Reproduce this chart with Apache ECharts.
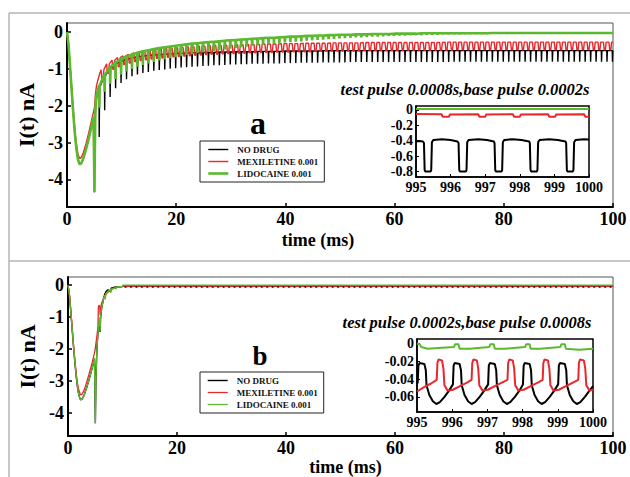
<!DOCTYPE html>
<html>
<head>
<meta charset="utf-8">
<title>I(t) pulse trains</title>
<script src="https://cdn.jsdelivr.net/npm/echarts@6.0.0/dist/echarts.min.js"></script>
<style>
  html, body { margin: 0; padding: 0; background: #fff; }
  #chart { width: 630px; height: 477px; }
</style>
</head>
<body>
<div id="chart"></div>
<script>
// legend names and colours
const seriesNames = ["NO DRUG", "MEXILETINE 0.001", "LIDOCAINE 0.001"];
const seriesColors = ["#000000", "#e8282c", "#5cb92f"];

// tick labels
const mainYTicks = [-4, -3, -2, -1, 0];
const insetYTicksA = [-0.8, -0.6, -0.4, -0.2, 0];
const insetYTicksB = [-0.06, -0.04, -0.02, 0];

// ---------- panel a : first 5.6 ms, [t, I] ----------
const noDrugEarlyA = [[0,0],[0.25,-0.3],[0.5,-0.8],[0.75,-1.35],[1,-1.9],[1.25,-2.4],[1.5,-2.85],[1.75,-3.2],[2,-3.45],[2.25,-3.57],[2.4,-3.59],[2.6,-3.56],[2.8,-3.5],[3,-3.42],[3.5,-3.17],[4,-2.88],[4.5,-2.55],[4.85,-2.3],[4.95,-3.4],[5.02,-4.35],[5.1,-3.2],[5.2,-2.2],[5.35,-1.85],[5.6,-1.6]];
const mexEarlyA = [[0,0],[0.25,-0.28],[0.5,-0.77],[0.75,-1.3],[1,-1.83],[1.25,-2.32],[1.5,-2.75],[1.75,-3.08],[2,-3.3],[2.25,-3.41],[2.4,-3.43],[2.6,-3.4],[2.8,-3.34],[3,-3.27],[3.5,-3.02],[4,-2.72],[4.5,-2.4],[4.8,-2.2],[5,-2.08],[5.1,-1.95],[5.2,-1.7],[5.4,-1.45],[5.7,-1.28],[6,-1.12],[6.2,-1.05]];
const lidoEarlyA = [[0,0],[0.25,-0.3],[0.5,-0.8],[0.75,-1.35],[1,-1.9],[1.25,-2.4],[1.5,-2.85],[1.75,-3.2],[2,-3.45],[2.25,-3.57],[2.4,-3.59],[2.6,-3.56],[2.8,-3.5],[3,-3.42],[3.5,-3.17],[4,-2.88],[4.5,-2.55],[4.85,-2.3],[4.95,-3.4],[5.02,-4.35],[5.1,-3.2],[5.2,-2.1],[5.35,-1.75],[5.6,-1.62]];

// ---------- panel a : one value per 1 ms pulse cycle ----------
// plateau (test pulse) and tip (base pulse) levels, cycles 5..99
const noDrugHiA = [
  -1.5,-1.2,-0.98,-0.86,-0.79,-0.74,-0.7,-0.67,-0.65,-0.63,
  -0.62,-0.61,-0.6,-0.59,-0.58,-0.57,-0.57,-0.56,-0.56,-0.55,
  -0.55,-0.55,-0.54,-0.54,-0.54,-0.53,-0.53,-0.53,-0.53,-0.52,
  -0.52,-0.52,-0.52,-0.52,-0.51,-0.51,-0.51,-0.51,-0.51,-0.51,
  -0.51,-0.5,-0.5,-0.5,-0.5,-0.5,-0.5,-0.5,-0.5,-0.5,
  -0.5,-0.5,-0.5,-0.5,-0.5,-0.5,-0.5,-0.5,-0.5,-0.5,
  -0.5,-0.5,-0.5,-0.5,-0.5,-0.5,-0.5,-0.5,-0.5,-0.5,
  -0.5,-0.5,-0.5,-0.5,-0.5,-0.5,-0.5,-0.5,-0.5,-0.5,
  -0.5,-0.5,-0.5,-0.5,-0.5,-0.5,-0.5,-0.5,-0.5,-0.5,
  -0.5,-0.5,-0.5,-0.5,-0.5
];
const noDrugLoA = [
  -2.85,-2.12,-1.76,-1.52,-1.38,-1.28,-1.2,-1.15,-1.11,-1.08,
  -1.05,-1.03,-1.01,-0.99,-0.98,-0.96,-0.95,-0.94,-0.93,-0.92,
  -0.91,-0.9,-0.9,-0.89,-0.88,-0.88,-0.87,-0.87,-0.86,-0.86,
  -0.86,-0.85,-0.85,-0.85,-0.84,-0.84,-0.84,-0.83,-0.83,-0.83,
  -0.83,-0.82,-0.82,-0.82,-0.82,-0.82,-0.81,-0.81,-0.81,-0.81,
  -0.81,-0.81,-0.81,-0.81,-0.81,-0.81,-0.81,-0.81,-0.81,-0.81,
  -0.81,-0.81,-0.81,-0.81,-0.81,-0.8,-0.8,-0.8,-0.8,-0.8,
  -0.8,-0.8,-0.8,-0.8,-0.8,-0.8,-0.8,-0.8,-0.8,-0.8,
  -0.8,-0.8,-0.8,-0.8,-0.8,-0.8,-0.8,-0.8,-0.8,-0.8,
  -0.8,-0.8,-0.8,-0.8,-0.8
];
// cycles 6..99
const mexHiA = [
  -1.02,-0.86,-0.76,-0.69,-0.64,-0.6,-0.56,-0.53,-0.51,-0.49,
  -0.47,-0.46,-0.44,-0.43,-0.42,-0.41,-0.4,-0.39,-0.38,-0.38,
  -0.37,-0.36,-0.36,-0.35,-0.35,-0.34,-0.34,-0.33,-0.33,-0.33,
  -0.32,-0.32,-0.32,-0.31,-0.31,-0.31,-0.31,-0.3,-0.3,-0.3,
  -0.3,-0.3,-0.29,-0.29,-0.29,-0.29,-0.29,-0.29,-0.28,-0.28,
  -0.28,-0.28,-0.28,-0.28,-0.28,-0.28,-0.28,-0.28,-0.28,-0.28,
  -0.28,-0.28,-0.28,-0.27,-0.27,-0.27,-0.27,-0.27,-0.27,-0.27,
  -0.27,-0.27,-0.27,-0.27,-0.27,-0.27,-0.27,-0.27,-0.27,-0.27,
  -0.27,-0.27,-0.27,-0.27,-0.27,-0.27,-0.27,-0.27,-0.27,-0.27,
  -0.27,-0.27,-0.27,-0.27
];
const mexLoA = [
  -1.3,-1.12,-1.01,-0.94,-0.88,-0.84,-0.8,-0.77,-0.75,-0.73,
  -0.71,-0.7,-0.68,-0.67,-0.66,-0.65,-0.64,-0.63,-0.62,-0.61,
  -0.6,-0.6,-0.59,-0.58,-0.58,-0.57,-0.57,-0.56,-0.56,-0.55,
  -0.55,-0.55,-0.54,-0.54,-0.54,-0.53,-0.53,-0.53,-0.53,-0.52,
  -0.52,-0.52,-0.52,-0.51,-0.51,-0.51,-0.51,-0.51,-0.5,-0.5,
  -0.5,-0.5,-0.5,-0.5,-0.5,-0.49,-0.49,-0.49,-0.49,-0.49,
  -0.49,-0.49,-0.49,-0.49,-0.49,-0.48,-0.48,-0.48,-0.48,-0.48,
  -0.48,-0.48,-0.48,-0.48,-0.48,-0.48,-0.48,-0.48,-0.48,-0.48,
  -0.48,-0.48,-0.48,-0.48,-0.48,-0.48,-0.48,-0.48,-0.48,-0.48,
  -0.48,-0.48,-0.48,-0.48
];
// cycles 5..99
const lidoHiA = [
  -1.45,-1.15,-0.95,-0.82,-0.73,-0.66,-0.61,-0.56,-0.52,-0.49,
  -0.46,-0.43,-0.41,-0.39,-0.37,-0.35,-0.33,-0.31,-0.3,-0.28,
  -0.27,-0.26,-0.25,-0.23,-0.22,-0.21,-0.2,-0.19,-0.18,-0.17,
  -0.16,-0.15,-0.15,-0.14,-0.13,-0.12,-0.12,-0.11,-0.1,-0.1,
  -0.09,-0.09,-0.08,-0.08,-0.07,-0.07,-0.07,-0.06,-0.06,-0.06,
  -0.05,-0.05,-0.05,-0.05,-0.04,-0.04,-0.04,-0.04,-0.04,-0.03,
  -0.03,-0.03,-0.03,-0.03,-0.03,-0.03,-0.03,-0.03,-0.03,-0.03,
  -0.03,-0.03,-0.02,-0.02,-0.02,-0.02,-0.02,-0.02,-0.02,-0.02,
  -0.02,-0.02,-0.02,-0.02,-0.02,-0.02,-0.02,-0.02,-0.02,-0.02,
  -0.02,-0.02,-0.02,-0.02,-0.02
];
const lidoLoA = [
  -2.05,-1.62,-1.4,-1.27,-1.15,-1.07,-1.0,-0.94,-0.89,-0.85,
  -0.81,-0.77,-0.74,-0.71,-0.68,-0.65,-0.62,-0.6,-0.57,-0.55,
  -0.53,-0.51,-0.49,-0.47,-0.45,-0.43,-0.41,-0.39,-0.37,-0.36,
  -0.34,-0.33,-0.31,-0.3,-0.28,-0.27,-0.26,-0.25,-0.23,-0.22,
  -0.21,-0.2,-0.19,-0.18,-0.17,-0.16,-0.15,-0.14,-0.14,-0.13,
  -0.12,-0.12,-0.11,-0.1,-0.1,-0.09,-0.09,-0.08,-0.08,-0.08,
  -0.07,-0.07,-0.07,-0.06,-0.06,-0.06,-0.06,-0.05,-0.05,-0.05,
  -0.05,-0.05,-0.04,-0.04,-0.04,-0.04,-0.04,-0.04,-0.04,-0.04,
  -0.04,-0.04,-0.04,-0.04,-0.04,-0.03,-0.03,-0.03,-0.03,-0.03,
  -0.03,-0.03,-0.03,-0.03,-0.03
];

// ---------- panel b : first 10 ms, [t, I] ----------
const noDrugEarlyB = [[0,0],[0.25,-0.3],[0.5,-0.8],[0.75,-1.35],[1,-1.9],[1.25,-2.4],[1.5,-2.85],[1.75,-3.2],[2,-3.45],[2.25,-3.57],[2.4,-3.59],[2.6,-3.56],[2.8,-3.5],[3,-3.42],[3.5,-3.17],[4,-2.88],[4.5,-2.55],[4.85,-2.3],[4.95,-3.4],[5.02,-4.32],[5.12,-3.0],[5.3,-2.0],[5.5,-1.5],[5.7,-1.2],[5.85,-1.05],[5.9,-1.47],[5.97,-1.05],[6.2,-0.7],[6.5,-0.45],[6.8,-0.25],[6.85,-0.38],[6.92,-0.22],[7.3,-0.15],[7.85,-0.2],[7.92,-0.1],[8.5,-0.07],[9,-0.06],[10,-0.05]];
const mexEarlyB = [[0,0],[0.25,-0.28],[0.5,-0.77],[0.75,-1.3],[1,-1.83],[1.25,-2.32],[1.5,-2.75],[1.75,-3.08],[2,-3.3],[2.25,-3.41],[2.4,-3.44],[2.6,-3.41],[2.8,-3.34],[3,-3.27],[3.5,-3.0],[4,-2.7],[4.5,-2.38],[4.95,-2.05],[5.3,-1.6],[5.5,-1.3],[5.57,-0.7],[5.67,-0.63],[5.82,-0.68],[5.9,-0.95],[6.1,-0.6],[6.5,-0.42],[7,-0.28],[7.5,-0.2],[8,-0.14],[8.5,-0.1],[9,-0.07],[10,-0.05]];
const lidoEarlyB = [[0,0],[0.25,-0.3],[0.5,-0.8],[0.75,-1.35],[1,-1.9],[1.25,-2.4],[1.5,-2.85],[1.75,-3.2],[2,-3.45],[2.25,-3.57],[2.4,-3.59],[2.6,-3.56],[2.8,-3.5],[3,-3.42],[3.5,-3.17],[4,-2.88],[4.5,-2.55],[4.85,-2.3],[4.95,-3.4],[5.02,-4.32],[5.12,-3.0],[5.3,-2.0],[5.5,-1.5],[5.7,-1.15],[5.85,-1.0],[5.9,-1.45],[5.97,-1.0],[6.2,-0.7],[6.5,-0.45],[6.8,-0.3],[6.85,-0.45],[6.92,-0.28],[7.3,-0.2],[7.8,-0.15],[7.85,-0.25],[7.92,-0.13],[8.5,-0.09],[8.85,-0.12],[8.92,-0.07],[9.5,-0.05],[10,-0.04]];
// panel b steady ripple after 10 ms: [plateau, tip]
const noDrugSteadyB = [-0.022, -0.068];
const mexSteadyB = [-0.018, -0.054];
const lidoSteadyB = [-0.001, -0.007];

// ---------- insets, 995..1000 ms, [t, I] ----------
const noDrugInsetA = [[995,-0.41],[995.1,-0.405],[995.2,-0.41],[995.23,-0.43],[995.25,-0.78],[995.27,-0.8],[995.42,-0.8],[995.44,-0.78],[995.46,-0.42],[995.5,-0.39],[995.75,-0.38],[996,-0.39],[996.2,-0.41],[996.23,-0.43],[996.25,-0.78],[996.27,-0.8],[996.44,-0.8],[996.46,-0.78],[996.48,-0.42],[996.52,-0.39],[996.8,-0.38],[997.05,-0.39],[997.25,-0.41],[997.27,-0.43],[997.29,-0.78],[997.31,-0.8],[997.47,-0.8],[997.49,-0.78],[997.51,-0.42],[997.55,-0.39],[997.8,-0.38],[998.05,-0.39],[998.27,-0.41],[998.29,-0.43],[998.31,-0.78],[998.33,-0.8],[998.49,-0.8],[998.51,-0.78],[998.53,-0.42],[998.57,-0.39],[998.85,-0.38],[999.1,-0.39],[999.32,-0.41],[999.34,-0.43],[999.36,-0.78],[999.38,-0.8],[999.53,-0.8],[999.55,-0.78],[999.57,-0.42],[999.61,-0.39],[999.85,-0.38],[1000,-0.385]];
const mexInsetA = [[995,-0.055],[995.74,-0.057],[995.77,-0.088],[995.95,-0.09],[995.98,-0.06],[996.8,-0.057],[996.83,-0.088],[997,-0.09],[997.03,-0.06],[997.8,-0.057],[997.83,-0.088],[998,-0.09],[998.03,-0.06],[998.82,-0.057],[998.85,-0.088],[999.02,-0.09],[999.05,-0.06],[999.86,-0.057],[999.89,-0.088],[1000,-0.09]];
const lidoInsetA = [[995,0.012],[996,0.012],[997,0.012],[998,0.012],[999,0.012],[1000,0.012]];

const noDrugInsetB = [[995,-0.045],[995.02,-0.044],[995.04,-0.025],[995.07,-0.022],[995.21,-0.023],[995.25,-0.03],[995.27,-0.047],[995.35,-0.058],[995.45,-0.065],[995.55,-0.068],[995.65,-0.066],[995.78,-0.06],[995.91,-0.053],[996.02,-0.046],[996.04,-0.025],[996.07,-0.022],[996.21,-0.023],[996.25,-0.03],[996.27,-0.047],[996.35,-0.058],[996.45,-0.065],[996.55,-0.068],[996.65,-0.066],[996.78,-0.06],[996.91,-0.053],[997.02,-0.046],[997.04,-0.025],[997.07,-0.022],[997.21,-0.023],[997.25,-0.03],[997.27,-0.047],[997.35,-0.058],[997.45,-0.065],[997.55,-0.068],[997.65,-0.066],[997.78,-0.06],[997.91,-0.053],[998.01,-0.046],[998.03,-0.025],[998.06,-0.022],[998.2,-0.023],[998.24,-0.03],[998.26,-0.047],[998.34,-0.058],[998.44,-0.065],[998.54,-0.068],[998.64,-0.066],[998.77,-0.06],[998.9,-0.053],[999.01,-0.046],[999.03,-0.025],[999.06,-0.022],[999.2,-0.023],[999.24,-0.03],[999.26,-0.047],[999.34,-0.058],[999.44,-0.065],[999.54,-0.068],[999.64,-0.066],[999.77,-0.06],[999.9,-0.053],[1000,-0.048]];
const mexInsetB = [[995,-0.054],[995.2,-0.049],[995.4,-0.045],[995.56,-0.041],[995.58,-0.022],[995.61,-0.018],[995.71,-0.019],[995.75,-0.028],[995.78,-0.047],[995.87,-0.053],[996.02,-0.052],[996.22,-0.048],[996.42,-0.044],[996.55,-0.041],[996.57,-0.022],[996.6,-0.018],[996.7,-0.019],[996.74,-0.028],[996.77,-0.047],[996.86,-0.053],[997.01,-0.052],[997.21,-0.048],[997.41,-0.044],[997.57,-0.041],[997.59,-0.022],[997.62,-0.018],[997.72,-0.019],[997.76,-0.028],[997.79,-0.047],[997.88,-0.053],[998.03,-0.052],[998.23,-0.048],[998.43,-0.044],[998.57,-0.041],[998.59,-0.022],[998.62,-0.018],[998.72,-0.019],[998.76,-0.028],[998.79,-0.047],[998.88,-0.053],[999.03,-0.052],[999.23,-0.048],[999.43,-0.044],[999.58,-0.041],[999.6,-0.022],[999.63,-0.018],[999.74,-0.019],[999.78,-0.028],[999.81,-0.047],[999.9,-0.053],[1000,-0.052]];
const lidoInsetB = [[995,0],[995.08,-0.001],[995.12,-0.004],[995.3,-0.006],[995.6,-0.005],[996.05,-0.004],[996.08,-0.001],[996.18,-0.001],[996.21,-0.006],[996.5,-0.006],[997.05,-0.004],[997.08,-0.001],[997.18,-0.001],[997.21,-0.006],[997.5,-0.006],[998.07,-0.004],[998.1,-0.001],[998.2,-0.001],[998.23,-0.006],[998.5,-0.006],[999.07,-0.004],[999.1,-0.001],[999.2,-0.001],[999.23,-0.006],[999.6,-0.007],[1000,-0.006]];

// ---------- building the traces ----------
// where inside each 1 ms cycle the tip falls (0 = plateau level, 1 = tip level)
const toothShape = [[0.86, 0], [0.9, 1], [0.93, 1], [0.97, 0]];
const dipShape = [[0.25, 0], [0.4, 1], [0.6, 1], [0.75, 0]];
const rippleShapeB = [
  [[0.03, 0], [0.2, 0], [0.55, 1]],
  [[0.57, 0], [0.72, 0], [0.85, 1]],
  [[0.08, 0], [0.18, 0], [0.22, 1]]
];

function pulseTrain(early, hi, lo, firstCycle, shape) {
  const pts = early.slice();
  hi.forEach((h, i) => {
    const k = firstCycle + i;
    shape.forEach(([ph, tip]) => pts.push([k + ph, tip ? lo[i] : h]));
  });
  pts.push([100, hi[hi.length - 1]]);
  return pts;
}
function steadyTrain(early, level, firstCycle, shape) {
  const pts = early.slice();
  for (let k = firstCycle; k < 100; k++) {
    shape.forEach(([ph, tip]) => pts.push([k + ph, level[tip]]));
  }
  pts.push([100, level[0]]);
  return pts;
}

const traceA = [
  pulseTrain(noDrugEarlyA, noDrugHiA, noDrugLoA, 5, toothShape),
  pulseTrain(mexEarlyA, mexHiA, mexLoA, 6, dipShape),
  pulseTrain(lidoEarlyA, lidoHiA, lidoLoA, 5, toothShape)
];
const traceB = [
  steadyTrain(noDrugEarlyB, noDrugSteadyB, 10, rippleShapeB[0]),
  steadyTrain(mexEarlyB, mexSteadyB, 10, rippleShapeB[1]),
  steadyTrain(lidoEarlyB, lidoSteadyB, 10, rippleShapeB[2])
];
const insetA = [noDrugInsetA, mexInsetA, lidoInsetA];
const insetB = [noDrugInsetB, mexInsetB, lidoInsetB];

// ---------- options ----------
const serif = "'Liberation Serif', 'DejaVu Serif', serif";
const boldText = { color: "#000", fontFamily: serif, fontWeight: "bold" };

function mainX(gridIndex, nameGap, namePad) {
  return {
    gridIndex, type: "value", min: 0, max: 100, interval: 20,
    axisLine: { onZero: false, lineStyle: { color: "#000", width: 2 } },
    axisTick: { inside: true, length: 4, lineStyle: { color: "#000", width: 1.5 } },
    axisLabel: { ...boldText, fontSize: 18, margin: 3 },
    splitLine: { show: false },
    name: "time (ms)", nameLocation: "middle", nameGap,
    nameTextStyle: { ...boldText, fontSize: 18, padding: namePad }
  };
}
function mainY(gridIndex, min) {
  return {
    gridIndex, type: "value", min, max: 0.25,
    axisLine: { show: true, onZero: false, lineStyle: { color: "#000", width: 2 } },
    axisTick: { show: true, inside: true, length: 4, customValues: mainYTicks, lineStyle: { color: "#000", width: 1.5 } },
    axisLabel: { ...boldText, fontSize: 18, margin: 4, customValues: mainYTicks },
    splitLine: { show: false },
    name: "I(t) nA", nameLocation: "middle", nameRotate: 90, nameGap: 27,
    nameTextStyle: { ...boldText, fontSize: 22 }
  };
}
function insetX(gridIndex) {
  return {
    gridIndex, type: "value", min: 995, max: 1000, interval: 1,
    axisLine: { onZero: false, lineStyle: { color: "#000", width: 1.5 } },
    axisTick: { inside: true, length: 3, lineStyle: { color: "#000" } },
    axisLabel: { ...boldText, fontSize: 14, margin: 3, formatter: v => String(v) },
    splitLine: { show: false }
  };
}
function insetY(gridIndex, min, max, ticks) {
  return {
    gridIndex, type: "value", min, max,
    axisLine: { show: true, onZero: false, lineStyle: { color: "#000", width: 1.5 } },
    axisTick: { show: true, inside: true, length: 3, customValues: ticks, lineStyle: { color: "#000" } },
    axisLabel: { ...boldText, fontSize: 14, margin: 3, customValues: ticks },
    splitLine: { show: false }
  };
}

const widths = {
  a: [1.4, 1.4, 2.6],
  b: [1.4, 1.3, 1.3],
  inset: [2, 2, 2]
};

function traces(data, axis, w) {
  return data.map((pts, i) => ({
    type: "line", name: seriesNames[i], xAxisIndex: axis, yAxisIndex: axis,
    data: pts, symbol: "none", showSymbol: false, silent: true,
    lineStyle: { color: seriesColors[i], width: w[i] },
    itemStyle: { color: seriesColors[i] },
    emphasis: { disabled: true }, z: 2 + i
  }));
}

function legendBox(top, w) {
  return {
    orient: "vertical", left: 200, top, selectedMode: false,
    padding: [4, 6, 4, 7], itemGap: 3, itemWidth: 20, itemHeight: 9,
    backgroundColor: "#fff", borderColor: "#222", borderWidth: 1,
    textStyle: { ...boldText, fontSize: 9, lineHeight: 9, color: "#111", padding: [0, 0, 0, 4] },
    data: seriesNames.map((n, i) => ({
      name: n,
      lineStyle: { color: seriesColors[i], width: w[i] },
      itemStyle: { color: seriesColors[i], opacity: 0 }
    }))
  };
}

const frame = { stroke: "#b4b4b4", lineWidth: 1.5 };
const textFont = (size, extra) => (extra || "bold") + " " + size + "px " + serif;

const option = {
  animation: false,
  backgroundColor: "#fff",
  grid: [
    { left: 67, top: 23, width: 546, height: 184, show: true, borderColor: "#555", borderWidth: 1 },
    { left: 416, top: 106, width: 173, height: 71, show: true, backgroundColor: "#fff", borderColor: "#000", borderWidth: 1.5 },
    { left: 68, top: 277, width: 545, height: 159, show: true, borderColor: "#555", borderWidth: 1 },
    { left: 417, top: 339, width: 176, height: 73, show: true, backgroundColor: "#fff", borderColor: "#000", borderWidth: 1.5 }
  ],
  xAxis: [mainX(0, 24, [0, 44, 0, 0]), insetX(1), mainX(2, 19, [0, 0, 0, 10]), insetX(3)],
  yAxis: [mainY(0, -4.75), insetY(1, -0.87, 0.05, insetYTicksA), mainY(2, -4.72), insetY(3, -0.077, 0.005, insetYTicksB)],
  legend: [legendBox(141, widths.a), legendBox(372, widths.b)],
  graphic: [
    { type: "line", shape: { x1: 9, y1: 13, x2: 630, y2: 13 }, style: frame, silent: true },
    { type: "line", shape: { x1: 9, y1: 261, x2: 630, y2: 261 }, style: frame, silent: true },
    { type: "line", shape: { x1: 9, y1: 13, x2: 9, y2: 477 }, style: frame, silent: true },
    { type: "text", x: 258, y: 123, style: { text: "a", font: textFont(32), textAlign: "center", textVerticalAlign: "middle", fill: "#000" } },
    { type: "text", x: 260, y: 356, style: { text: "b", font: textFont(27), textAlign: "center", textVerticalAlign: "middle", fill: "#000" } },
    { type: "text", x: 465, y: 89, style: { text: "test pulse 0.0008s,base pulse 0.0002s", font: textFont(16.5, "italic bold"), textAlign: "center", textVerticalAlign: "middle", fill: "#000" } },
    { type: "text", x: 467, y: 322, style: { text: "test pulse 0.0002s,base pulse 0.0008s", font: textFont(16.5, "italic bold"), textAlign: "center", textVerticalAlign: "middle", fill: "#000" } }
  ],
  series: [
    ...traces(traceA, 0, widths.a),
    ...traces(insetA, 1, widths.inset),
    ...traces(traceB, 2, widths.b),
    ...traces(insetB, 3, widths.inset)
  ]
};

const chart = echarts.init(document.getElementById("chart"), null, { renderer: "svg" });
chart.setOption(option);
</script>
</body>
</html>
